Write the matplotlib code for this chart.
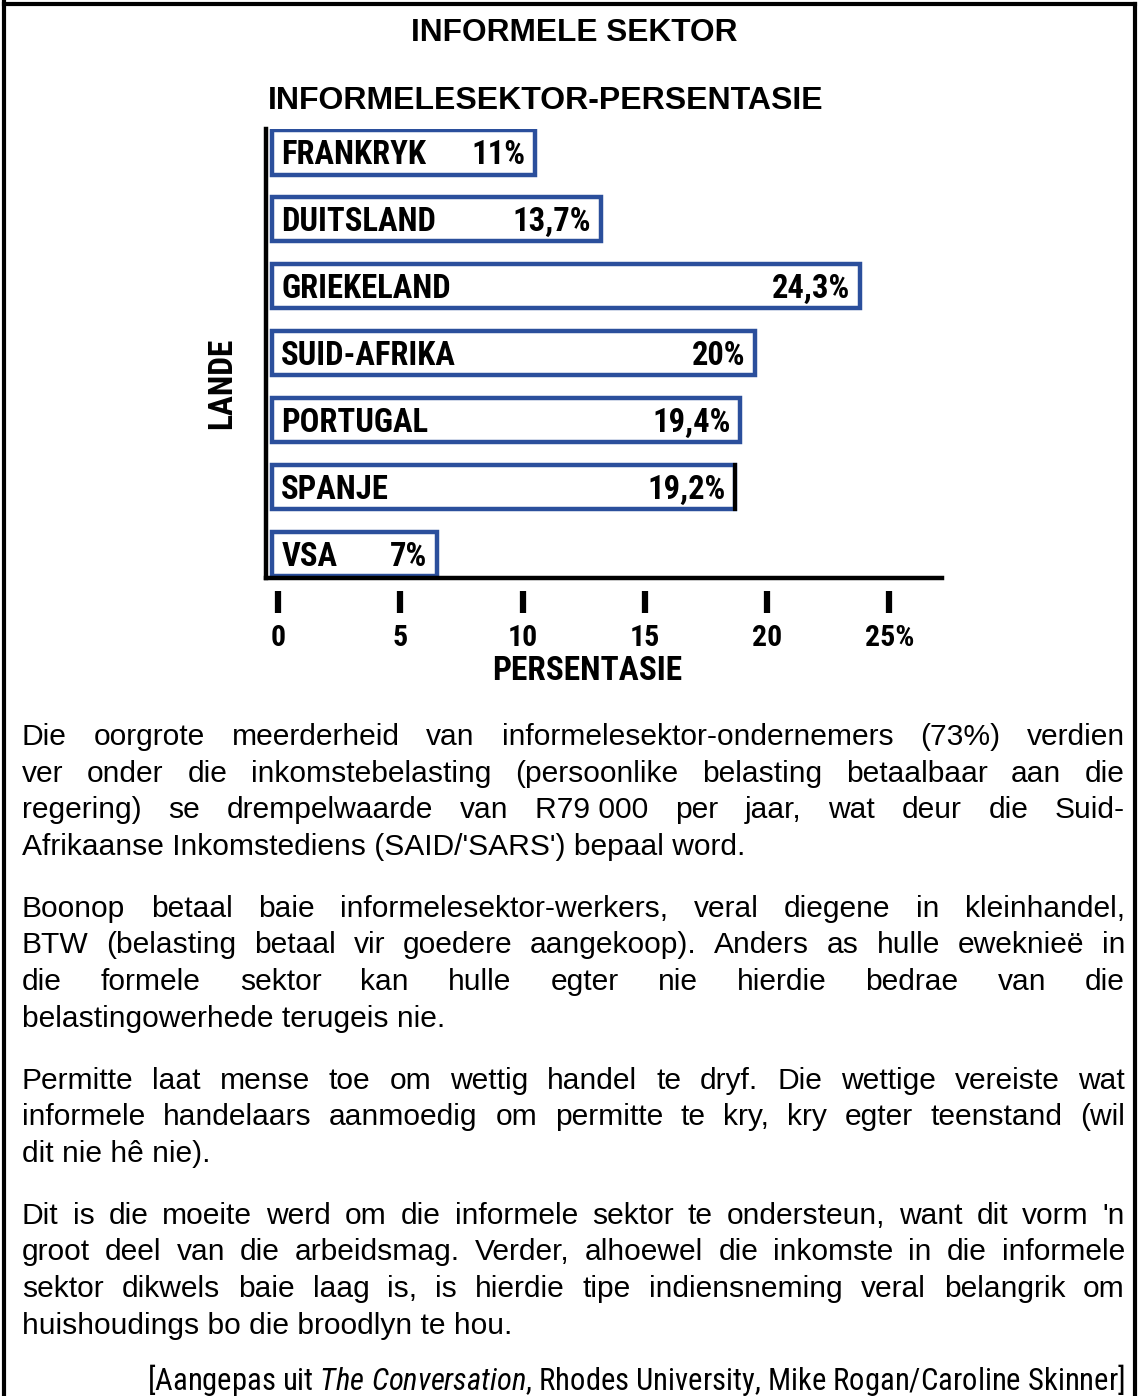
import numpy as np
import matplotlib
matplotlib.use('Agg')
import matplotlib.pyplot as plt
from matplotlib.lines import Line2D
from matplotlib import font_manager as fm

# data
countries = ['FRANKRYK', 'DUITSLAND', 'GRIEKELAND', 'SUID-AFRIKA', 'PORTUGAL', 'SPANJE', 'VSA']
values = [11, 13.7, 24.3, 20, 19.4, 19.2, 7]
value_labels = ['11%', '13,7%', '24,3%', '20%', '19,4%', '19,2%', '7%']
ticks = [0, 5, 10, 15, 20, 25]
tick_labels = ['0', '5', '10', '15', '20', '25%']

paragraphs = [
    ["Die oorgrote meerderheid van informelesektor-ondernemers (73%) verdien",
     "ver onder die inkomstebelasting (persoonlike belasting betaalbaar aan die",
     "regering) se drempelwaarde van R79\u00a0000 per jaar, wat deur die Suid-",
     "Afrikaanse Inkomstediens (SAID/'SARS') bepaal word."],
    ["Boonop betaal baie informelesektor-werkers, veral diegene in kleinhandel,",
     "BTW (belasting betaal vir goedere aangekoop). Anders as hulle eweknieë in",
     "die formele sektor kan hulle egter nie hierdie bedrae van die",
     "belastingowerhede terugeis nie."],
    ["Permitte laat mense toe om wettig handel te dryf. Die wettige vereiste wat",
     "informele handelaars aanmoedig om permitte te kry, kry egter teenstand (wil",
     "dit nie hê nie)."],
    ["Dit is die moeite werd om die informele sektor te ondersteun, want dit vorm 'n",
     "groot deel van die arbeidsmag. Verder, alhoewel die inkomste in die informele",
     "sektor dikwels baie laag is, is hierdie tipe indiensneming veral belangrik om",
     "huishoudings bo die broodlyn te hou."],
]
source = r"[Aangepas uit $\mathit{The\ Conversation}$, Rhodes University, Mike Rogan/Caroline Skinner]"

BLUE = '#2b4f9c'
SANS = 'Liberation Sans'

# pick a narrow bold face if one is installed, else plain Arial-like at a smaller size
installed = {f.name for f in fm.fontManager.ttflist}
narrow_options = [('Roboto Condensed', 1.0), ('Liberation Sans Narrow', 0.95),
                  ('Open Sans Condensed', 0.95), ('DejaVu Sans Condensed', 0.82)]
NARROW, nscale = SANS, 0.78
for name, sc in narrow_options:
    if name in installed:
        NARROW, nscale = name, sc
        break

plt.rcParams['mathtext.fontset'] = 'custom'
plt.rcParams['mathtext.it'] = NARROW + ':italic'
plt.rcParams['mathtext.rm'] = NARROW

W, H = 1140, 1396
fig = plt.figure(figsize=(W / 100, H / 100), dpi=100)

def fx(px):
    return px / W

def fy(py):
    return 1 - py / H

# frame around the page
for xs, ys in [([4, 4], [0, H]), ([4, 1135], [4, 4]), ([1135, 1135], [4, H])]:
    fig.add_artist(Line2D([fx(v) for v in xs], [fy(v) for v in ys],
                          transform=fig.transFigure, color='black', lw=3))

fig.text(fx(574), fy(41), 'INFORMELE SEKTOR', ha='center', va='baseline',
         fontsize=22.8, fontweight='bold', family=SANS)
fig.text(fx(546), fy(109), 'INFORMELESEKTOR-PERSENTASIE', ha='center', va='baseline',
         fontsize=23, fontweight='bold', family=SANS)

# chart
ax = fig.add_axes([fx(266), fy(578), 676 / W, 449 / H])
y = np.arange(len(countries))
bar_start = 0.25
ax.barh(y, np.array(values) - bar_start, left=bar_start, height=0.66,
        color='white', edgecolor=BLUE, linewidth=3.2, zorder=2)
# black right edge on the Spanje bar, as in the original
ax.plot([values[5], values[5]], [5 - 0.33, 5 + 0.33], color='black', lw=3, zorder=3)

lab_fs = 23.5 * nscale
for i in range(len(countries)):
    ax.annotate(countries[i], (0, i), xytext=(11, -8.5), textcoords='offset points',
                ha='left', va='baseline', fontsize=lab_fs, fontweight='bold', family=NARROW)
    ax.annotate(value_labels[i], (values[i], i), xytext=(-7, -8.5), textcoords='offset points',
                ha='right', va='baseline', fontsize=lab_fs, fontweight='bold', family=NARROW)

ax.set_xlim(0, 27.65)
ax.set_ylim(6.36, -0.35)
for s in ['top', 'right']:
    ax.spines[s].set_visible(False)
for s in ['left', 'bottom']:
    ax.spines[s].set_linewidth(3.2)
    ax.spines[s].set_color('black')

tick_shift = 0.5
tick_pos = np.array(ticks) + tick_shift
ax.set_xticks(tick_pos, tick_labels)
ax.set_yticks([])
ax.tick_params(axis='x', length=0, pad=33)
for lab in ax.get_xticklabels():
    lab.set_fontsize(21.5 * nscale)
    lab.set_fontweight('bold')
    lab.set_family(NARROW)
ax.vlines(tick_pos, -0.030, -0.078, transform=ax.get_xaxis_transform(),
          clip_on=False, color='black', lw=4.5)

ax.set_xlabel('PERSENTASIE', fontsize=24 * nscale, fontweight='bold', family=NARROW)
ax.xaxis.set_label_coords((587 - 266) / 676, -(671 - 578) / 449)
ax.xaxis.label.set_va('center')
ax.set_ylabel('LANDE', fontsize=24 * nscale, fontweight='bold', family=NARROW)
ax.yaxis.set_label_coords((222 - 266) / 676, (578 - 383) / 449)
ax.yaxis.label.set_va('center')

# justified body text
renderer = fig.canvas.get_renderer()
left_px, right_px = 22, 1125
fs = 21.6
line_gap, para_gap = 36.6, 62
base = 745

def word_width(w):
    t = fig.text(0, 0, w, fontsize=fs, family=SANS)
    wd = t.get_window_extent(renderer).width
    t.remove()
    return wd

for para in paragraphs:
    for k, line in enumerate(para):
        yb = fy(base + k * line_gap)
        if k == len(para) - 1:
            fig.text(fx(left_px), yb, line, fontsize=fs, family=SANS, va='baseline')
            continue
        words = line.split(' ')
        widths = [word_width(w) for w in words]
        gap = (right_px - left_px - sum(widths)) / (len(words) - 1)
        xpos = left_px
        for w, wd in zip(words, widths):
            fig.text(fx(xpos), yb, w, fontsize=fs, family=SANS, va='baseline')
            xpos += wd + gap
    base += (len(para) - 1) * line_gap + para_gap

src = fig.text(fx(right_px), fy(1390), source, fontsize=21.6, family=NARROW,
               ha='right', va='baseline')
# fit the source line to the width it has in the original
src_w = src.get_window_extent(renderer).width
src.set_fontsize(21.6 * 977 / src_w)

fig.savefig('out.png', dpi=100)
